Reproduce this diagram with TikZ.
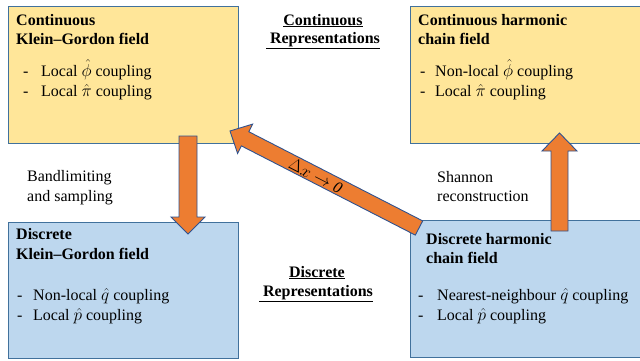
\documentclass[tikz,border=0pt]{standalone}
\usepackage{fontspec}
\setmainfont{Liberation Serif}
\definecolor{boxyellow}{HTML}{FFE699}
\definecolor{boxblue}{HTML}{BDD7EE}
\definecolor{edgeblue}{HTML}{41719C}
\definecolor{arroworange}{HTML}{ED7D31}
\definecolor{arrowedge}{HTML}{2F528F}
\tikzset{
  fieldbox/.style={draw=edgeblue, line width=0.9pt, rectangle, anchor=north west, inner sep=0pt},
  ybox/.style={fieldbox, fill=boxyellow},
  bbox/.style={fieldbox, fill=boxblue},
  blockarrow/.style={fill=arroworange, draw=arrowedge, line width=0.9pt, line join=miter},
  txt/.style={anchor=base west, inner sep=0pt},
  ctxt/.style={anchor=base, inner sep=0pt},
}
\begin{document}
\begin{tikzpicture}[x=1pt, y=1pt, font=\fontsize{16}{20}\selectfont]
\useasboundingbox (0,0) rectangle (640,-360);
\clip (0,0) rectangle (640,-360);

% boxes
\node[ybox, minimum width=230pt, minimum height=137pt] (ckg) at (8,-6) {};
\node[ybox, minimum width=240pt, minimum height=137pt] (chc) at (410,-6) {};
\node[bbox, minimum width=230pt, minimum height=136pt] (dkg) at (8,-222) {};
\node[bbox, minimum width=240pt, minimum height=137pt] (dhc) at (410,-220) {};

% block arrows
\filldraw[blockarrow] (179,-136) -- (197,-136) -- (197,-217) -- (205,-217) -- (188,-234)
  -- (171,-217) -- (179,-217) -- cycle;
\filldraw[blockarrow] (551,-231) -- (568,-231) -- (568,-151) -- (577,-151) -- (559.5,-133)
  -- (542,-151) -- (551,-151) -- cycle;
\filldraw[blockarrow] (422.7,-220.9) -- (248.8,-131.7) -- (252.6,-124.1) -- (230,-131)
  -- (237.6,-153.5) -- (241.4,-145.9) -- (415.3,-235.1) -- cycle;
\node[inner sep=0pt, rotate=-27.2] (dxlabel) at (316,-176) {$\Delta x \rightarrow \mathit{0}$};

% top-left box text
\node[txt] (ckg1) at (16,-25) {\bfseries Continuous};
\node[txt] (ckg2) at (16,-44) {\bfseries Klein–Gordon field};
\node[txt] (ckg3) at (23,-76) {-};
\node[txt] (ckg4) at (41,-76) {Local $\hat{\phi}$ coupling};
\node[txt] (ckg5) at (23,-96) {-};
\node[txt] (ckg6) at (41,-96) {Local $\hat{\pi}$ coupling};

% top-right box text
\node[txt] (chc1) at (418,-25) {\bfseries Continuous harmonic};
\node[txt] (chc2) at (418,-44) {\bfseries chain field};
\node[txt] (chc3) at (420,-76) {-};
\node[txt] (chc4) at (435,-76) {Non-local $\hat{\phi}$ coupling};
\node[txt] (chc5) at (420,-96) {-};
\node[txt] (chc6) at (435,-96) {Local $\hat{\pi}$ coupling};

% bottom-left box text
\node[txt] (dkg1) at (16,-239) {\bfseries Discrete};
\node[txt] (dkg2) at (16,-259) {\bfseries Klein–Gordon field};
\node[txt] (dkg3) at (17,-300) {-};
\node[txt] (dkg4) at (33,-300) {Non-local $\hat{q}$ coupling};
\node[txt] (dkg5) at (17,-320) {-};
\node[txt] (dkg6) at (33,-320) {Local $\hat{p}$ coupling};

% bottom-right box text
\node[txt] (dhc1) at (426,-244) {\bfseries Discrete harmonic};
\node[txt] (dhc2) at (426,-263) {\bfseries chain field};
\node[txt] (dhc3) at (418,-300) {-};
\node[txt] (dhc4) at (437,-300) {Nearest-neighbour $\hat{q}$ coupling};
\node[txt] (dhc5) at (418,-320) {-};
\node[txt] (dhc6) at (437,-320) {Local $\hat{p}$ coupling};

% side labels
\node[txt] (bl1) at (27,-181) {Bandlimiting};
\node[txt] (bl2) at (27,-201) {and sampling};
\node[txt] (sr1) at (437,-182) {Shannon};
\node[txt] (sr2) at (437,-201) {reconstruction};

% centre headings
\node[ctxt] (cr1) at (323,-25) {\bfseries\underline{Continuous}};
\node[ctxt] (cr2) at (323,-43) {\bfseries\underline{\ Representations}};
\node[ctxt] (dr1) at (317,-277) {\bfseries\underline{Discrete}};
\node[ctxt] (dr2) at (316,-296) {\bfseries\underline{\ Representations}};
\end{tikzpicture}
\end{document}
